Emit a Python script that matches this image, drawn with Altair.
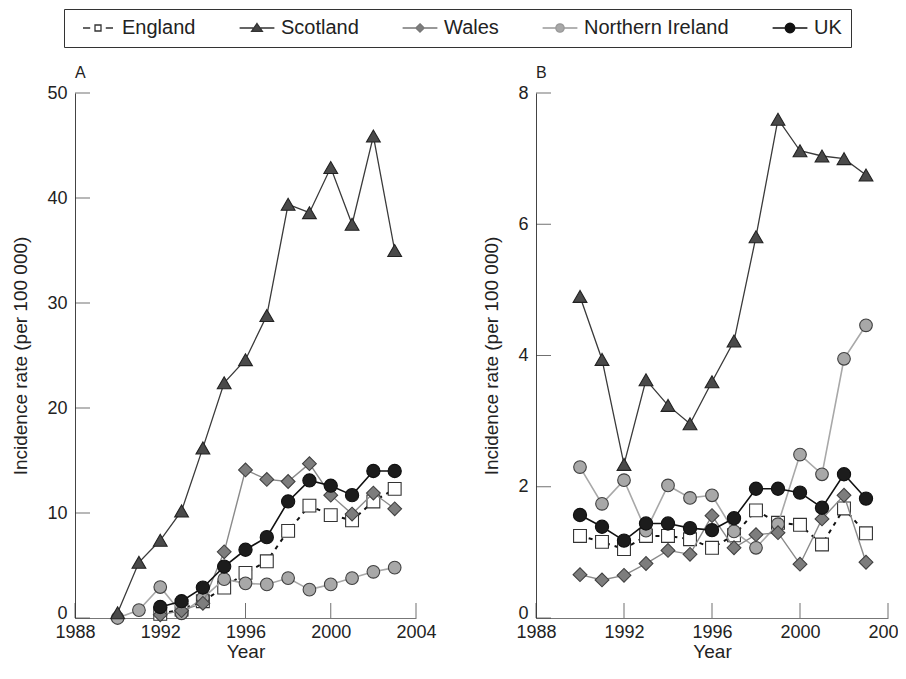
import altair as alt
import pandas as pd
import math

years = list(range(1990, 2004))
countries = ["England", "Scotland", "Wales", "Northern Ireland", "UK"]

# Panel A
a_england = [None, None, 0.4, 0.8, 1.6, 2.9, 4.3, 5.4, 8.3, 10.7, 9.8, 9.3, 11.1, 12.3]
a_scotland = [0.5, 5.3, 7.4, 10.2, 16.2, 22.4, 24.6, 28.8, 39.4, 38.6, 42.9, 37.5, 45.9, 35.0]
a_wales = [None, None, 0.3, 0.7, 1.4, 6.3, 14.1, 13.2, 13.0, 14.7, 11.7, 9.9, 11.9, 10.4]
a_ni = [0.0, 0.75, 2.95, 0.45, 1.9, 3.7, 3.3, 3.2, 3.8, 2.7, 3.2, 3.8, 4.4, 4.8]
a_uk = [None, None, 1.05, 1.6, 2.9, 4.9, 6.5, 7.7, 11.1, 13.1, 12.6, 11.7, 14.0, 14.0]

# Panel B
b_england = [1.25, 1.16, 1.05, 1.25, 1.25, 1.20, 1.07, 1.26, 1.64, 1.45, 1.42, 1.12, 1.67, 1.29]
b_scotland = [4.90, 3.94, 2.34, 3.63, 3.24, 2.96, 3.60, 4.22, 5.81, 7.60, 7.12, 7.04, 7.00, 6.75]
b_wales = [0.66, 0.58, 0.65, 0.83, 1.03, 0.97, 1.56, 1.07, 1.27, 1.30, 0.82, 1.51, 1.87, 0.85]
b_ni = [2.30, 1.74, 2.10, 1.33, 2.02, 1.83, 1.87, 1.32, 1.07, 1.43, 2.49, 2.19, 3.95, 4.46]
b_uk = [1.57, 1.39, 1.18, 1.44, 1.44, 1.37, 1.34, 1.52, 1.97, 1.97, 1.91, 1.68, 2.19, 1.82]

x_ticks = [1988, 1992, 1996, 2000, 2004]
a_y_ticks = [0, 10, 20, 30, 40, 50]
b_y_ticks = [0, 2, 4, 6, 8]

FONT = "Liberation Sans"

series = {
    "A": {"England": a_england, "Scotland": a_scotland, "Wales": a_wales,
          "Northern Ireland": a_ni, "UK": a_uk},
    "B": {"England": b_england, "Scotland": b_scotland, "Wales": b_wales,
          "Northern Ireland": b_ni, "UK": b_uk},
}

rows = []
for panel, d in series.items():
    for c, vals in d.items():
        for yr, v in zip(years, vals):
            if v is not None:
                rows.append({"Panel": panel, "Country": c, "Year": yr, "Value": v})
df = pd.DataFrame(rows)

styles = {
    "England": dict(shape="square", fill="white", stroke="#333333", size=165,
                    line="#111111", lw=2.0, dash=[4, 5]),
    "Scotland": dict(shape="triangle-up", fill="#4a4a4a", stroke="#222222", size=190,
                     line="#3a3a3a", lw=1.3, dash=None),
    "Wales": dict(shape="diamond", fill="#7d7d7d", stroke="#404040", size=190,
                  line="#8a8a8a", lw=1.4, dash=None),
    "Northern Ireland": dict(shape="circle", fill="#a8a8a8", stroke="#404040", size=160,
                             line="#a8a8a8", lw=1.6, dash=None),
    "UK": dict(shape="circle", fill="#1c1c1c", stroke="#111111", size=175,
               line="#111111", lw=1.6, dash=None),
}
draw_order = ["England", "Northern Ireland", "Wales", "UK", "Scotland"]


def poly_circle(r, n=16):
    pts = []
    for i in range(n):
        t = 2 * math.pi * i / n
        pts.append(f"{r * math.cos(t):.3f},{r * math.sin(t):.3f}")
    return "M" + "L".join(pts) + "Z"


legend_paths = [
    "M-5,0L-2.6,0M2.6,0L5,0M-1,-1L1,-1L1,1L-1,1Z",
    "M-5.8,0L-1,0M1,0L5.8,0M0,-1.5L1.8,1.1L-1.8,1.1Z",
    "M-5.8,0L-1.4,0M1.4,0L5.8,0M0,-1.4L1.4,0L0,1.4L-1.4,0Z",
    "M-5.8,0L-1.4,0M1.4,0L5.8,0" + poly_circle(1.4),
    "M-5.8,0L-1.6,0M1.6,0L5.8,0" + poly_circle(1.6),
]
legend_fills = ["white", "#444444", "#7d7d7d", "#a8a8a8", "#111111"]
legend_strokes = ["#333333", "#333333", "#777777", "#999999", "#111111"]

xtick_df = pd.DataFrame({"Year": x_ticks, "Value": [0] * len(x_ticks)})

PLOT_H = 525
zero_baseline = {"condition": {"test": "datum.value == 0", "value": "alphabetic"}, "value": "middle"}


def panel(key, ymax, yticks, width, label, with_legend):
    d = df[df.Panel == key]
    xs = alt.Scale(domain=[1988, 2004], nice=False, zero=False)
    ys = alt.Scale(domain=[0, ymax], nice=False)
    x = alt.X("Year:Q", scale=xs,
              axis=alt.Axis(values=x_ticks, format="d", ticks=False, grid=False,
                            title="Year", domainColor="#777777", labelPadding=5,
                            titlePadding=1, labelFlush=False))
    y = alt.Y("Value:Q", scale=ys,
              axis=alt.Axis(values=yticks, ticks=False, grid=False,
                            title="Incidence rate (per 100 000)", labelBaseline=zero_baseline,
                            domainColor="#444444", labelPadding=8, titlePadding=16))
    layers = []
    for c in draw_order:
        st = styles[c]
        dc = d[d.Country == c]
        lk = dict(color=st["line"], strokeWidth=st["lw"])
        if st["dash"]:
            lk["strokeDash"] = st["dash"]
        layers.append(alt.Chart(dc).mark_line(**lk).encode(x=x, y=y))
        layers.append(alt.Chart(dc).mark_point(shape=st["shape"], filled=True, fill=st["fill"],
                                               stroke=st["stroke"], strokeWidth=1.1,
                                               size=st["size"], opacity=1).encode(x=x, y=y))
    ytick_df = pd.DataFrame({"Value": yticks, "Year": [x_ticks[0]] * len(yticks)})
    xt = alt.Chart(xtick_df).mark_tick(
        orient="vertical", size=15, thickness=1, color="#333333", yOffset=-7.5
    ).encode(x=x, y=y)
    yt = alt.Chart(ytick_df).mark_tick(
        orient="horizontal", size=15, thickness=1, color="#333333", xOffset=7.5
    ).encode(x=x, y=y)
    layers = [xt, yt] + layers
    if with_legend:
        leg = alt.Legend(title=" ", titleOrient="left", titlePadding=15, titleFontSize=19,
                         orient="none", legendX=-11, legendY=-84,
                         direction="horizontal", symbolSize=36, symbolStrokeWidth=1.3,
                         symbolOpacity=1, labelFont=FONT, labelFontSize=20,
                         labelColor="#222222", labelOffset=14, columnPadding=41,
                         labelExpr="datum.label == 'UK' ? 'UK\u00a0\u00a0\u00a0' : datum.label",
                         padding=9, strokeColor="#333333")
        helper = alt.Chart(d).mark_point(opacity=0, filled=True).encode(
            x=x, y=y,
            shape=alt.Shape("Country:N", scale=alt.Scale(domain=countries, range=legend_paths), legend=leg),
            fill=alt.Fill("Country:N", scale=alt.Scale(domain=countries, range=legend_fills), legend=leg),
            stroke=alt.Stroke("Country:N", scale=alt.Scale(domain=countries, range=legend_strokes), legend=leg),
        )
        layers.append(helper)
    return alt.layer(*layers).properties(
        width=width, height=PLOT_H,
        title=alt.TitleParams(label, anchor="start", frame="group", fontSize=16,
                              fontWeight="normal", font=FONT, color="#222222", offset=3),
    )


pa = panel("A", 50, a_y_ticks, 341, "A", True)
pb = panel("B", 8, b_y_ticks, 352, "B", False)

chart = alt.hconcat(pa, pb, spacing=45).properties(
    padding={"left": 3, "top": 0, "right": -11, "bottom": 0}
).configure(font=FONT).configure_view(stroke=None).configure_axis(
    labelFont=FONT, labelFontSize=18, labelColor="#222222",
    titleFont=FONT, titleFontSize=19, titleFontWeight="normal", titleColor="#222222",
    domainWidth=1,
)

chart.save("out.html", embed_options={"renderer": "svg", "actions": False})
